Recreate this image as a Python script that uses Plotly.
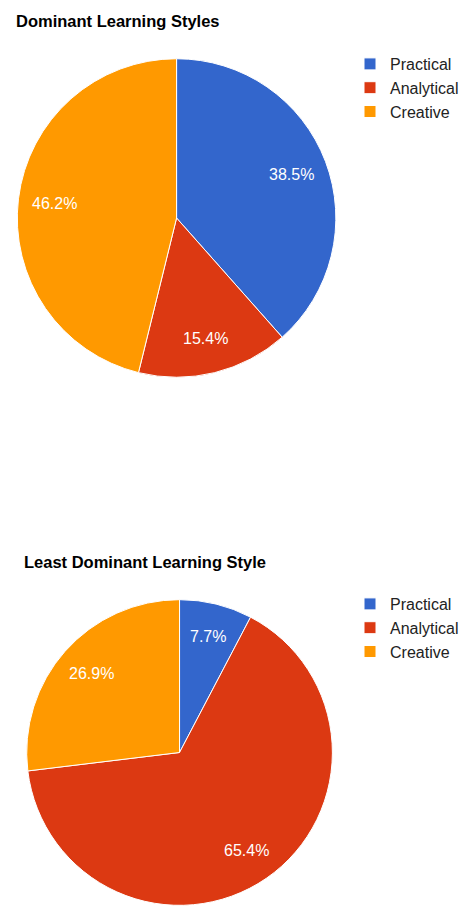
import math
import plotly.graph_objects as go

labels = ["Practical", "Analytical", "Creative"]
colors = ["#3366cc", "#dc3912", "#ff9900"]
dominant_counts = [5, 2, 6]          # 38.5%, 15.4%, 46.2%
least_dominant_counts = [2, 17, 7]   # 7.7%, 65.4%, 26.9%
titles = ["Dominant Learning Styles", "Least Dominant Learning Style"]

W, H = 464, 907
FONT = "Liberation Sans, Arial, sans-serif"
LABEL_R = 0.77  # label distance from centre, as fraction of radius (Google style)

fig = go.Figure()
annotations = []


def add_pie(values, cx, cy, r, legend_id, group):
    dom = dict(x=[(cx - r) / W, (cx + r) / W], y=[1 - (cy + r) / H, 1 - (cy - r) / H])
    fig.add_trace(go.Pie(
        labels=labels, values=values, sort=False, direction="clockwise", rotation=0,
        marker=dict(colors=colors, line=dict(color="white", width=1)),
        textposition="none", domain=dom, legend=legend_id, legendgroup=group,
        hoverinfo="label+percent",
    ))
    # percentage labels placed along each slice bisector, computed from the data
    total = float(sum(values))
    cum = 0.0
    for v in values:
        mid = (cum + v / 2.0) / total * 2 * math.pi
        cum += v
        x = cx + LABEL_R * r * math.sin(mid)
        y = cy - LABEL_R * r * math.cos(mid)
        annotations.append(dict(
            text="%.1f%%" % (v / total * 100), x=x / W, y=1 - y / H, xref="paper", yref="paper",
            xanchor="center", yanchor="middle", showarrow=False,
            font=dict(family=FONT, size=16, color="white"),
        ))


add_pie(dominant_counts, 178.5, 218, 161, "legend", "g1")
add_pie(least_dominant_counts, 181.5, 752.5, 154.5, "legend2", "g2")

for t, (tx, ty) in zip(titles, [(14, 21), (22, 562)]):
    annotations.append(dict(
        text="<b>%s</b>" % t, x=tx / W, y=1 - ty / H, xref="paper", yref="paper",
        xanchor="left", yanchor="middle", showarrow=False,
        font=dict(family=FONT, size=16.5, color="#000000"),
    ))

legend_common = dict(font=dict(family=FONT, size=16, color="#222222"), bgcolor="rgba(0,0,0,0)",
                     xanchor="left", yanchor="top", traceorder="normal")

fig.update_layout(
    width=W, height=H, margin=dict(l=0, r=0, t=0, b=0),
    paper_bgcolor="white", plot_bgcolor="white",
    font=dict(family=FONT),
    legend=dict(x=354 / W, y=1 - 47 / H, **legend_common),
    legend2=dict(x=354 / W, y=1 - 587 / H, **legend_common),
    annotations=annotations,
)

fig.write_html("out.html")
